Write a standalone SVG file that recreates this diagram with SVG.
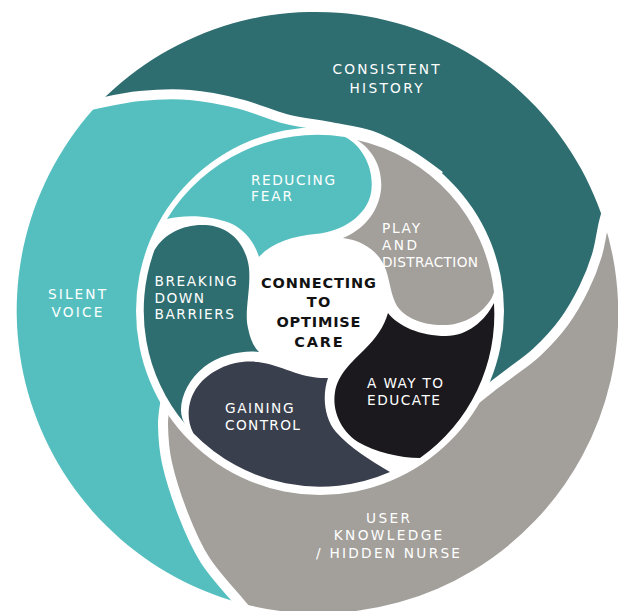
<svg xmlns="http://www.w3.org/2000/svg" width="618" height="611" viewBox="0 0 618 611">
  <style>
    .lbl { font-family: "DejaVu Sans", "Liberation Sans", sans-serif; font-size: 13.7px; fill: #ffffff; }
    .ctr { font-family: "DejaVu Sans", "Liberation Sans", sans-serif; font-size: 14.5px; font-weight: bold; fill: #121212; }
    .sep { fill: none; stroke: #ffffff; stroke-width: 10; }
    .c-dark { fill: #2e6d70; }
    .c-light { fill: #55bfc0; }
    .c-grey { fill: #a39f9b; }
    .c-slate { fill: #3a3f4d; }
    .c-black { fill: #1b191e; }
  </style>

  <rect width="618" height="611" fill="#ffffff"/>

  <!-- outer swirl -->
  <g id="consistent-history">
    <path class="c-dark" d="M100,102 A303,303 0 0 1 604,222 C601.5,232 600.3,244 597,255 C593.7,266 589.5,276.8 584,288 C578.5,299.2 571.8,311.3 564,322 C556.2,332.7 546,343.5 537,352 C528,360.5 517.8,367 510,373 C502.2,379 496.7,382.8 490,388 C483.3,393.2 473.3,401.3 470,404 L330,127 C315.7,124.2 301,122.8 286,119 C271,115.2 256,108 240,104 C224,100 206.7,96.3 190,95 C173.3,93.7 155.8,94.5 140,96 C124.2,97.5 110,100 100,102 Z"/>
    <text class="lbl" x="386" y="74" text-anchor="middle" textLength="107" lengthAdjust="spacing">CONSISTENT</text>
    <text class="lbl" x="386" y="92.5" text-anchor="middle" textLength="73" lengthAdjust="spacing">HISTORY</text>
  </g>

  <g id="silent-voice">
    <path class="c-light" d="M100,102 A303,303 0 0 0 240,603 C230.5,591.7 214.5,574.8 205,560 C195.5,545.2 189.3,530.2 183,514 C176.7,497.8 170.3,477.8 167,463 C163.7,448.2 163.2,435.8 163,425 C162.8,414.2 165.5,402.5 166,398 L330,127 C315.7,124.2 301,122.8 286,119 C271,115.2 256,108 240,104 C224,100 206.7,96.3 190,95 C173.3,93.7 155.8,94.5 140,96 C124.2,97.5 110,100 100,102 Z"/>
    <text class="lbl" x="77" y="298.5" text-anchor="middle" textLength="58" lengthAdjust="spacing">SILENT</text>
    <text class="lbl" x="77" y="317" text-anchor="middle" textLength="51" lengthAdjust="spacing">VOICE</text>
  </g>

  <g id="user-knowledge">
    <path class="c-grey" d="M604,222 A300,300 0 0 1 240,603 C230.5,591.7 214.5,574.8 205,560 C195.5,545.2 189.3,530.2 183,514 C176.7,497.8 170.3,477.8 167,463 C163.7,448.2 163.2,435.8 163,425 C162.8,414.2 165.5,402.5 166,398 L470,404 C473.3,401.3 483.3,393.2 490,388 C496.7,382.8 502.2,379 510,373 C517.8,367 528,360.5 537,352 C546,343.5 556.2,332.7 564,322 C571.8,311.3 578.5,299.2 584,288 C589.5,276.8 593.7,266 597,255 C600.3,244 601.5,232 604,222 Z"/>
    <text class="lbl" x="388" y="523" text-anchor="middle" textLength="44" lengthAdjust="spacing">USER</text>
    <text class="lbl" x="388" y="540.2" text-anchor="middle" textLength="108.5" lengthAdjust="spacing">KNOWLEDGE</text>
    <text class="lbl" x="388" y="558.3" text-anchor="middle" textLength="144" lengthAdjust="spacing">/ HIDDEN NURSE</text>
  </g>

  <!-- white gaps between the outer bands -->
  <g id="separators">
    <path class="sep" d="M60,112 C65.8,110.7 81.7,106.7 95,104 C108.3,101.3 124.2,97.5 140,96 C155.8,94.5 173.3,93.7 190,95 C206.7,96.3 224,100 240,104 C256,108 271,115.2 286,119 C301,122.8 315.7,124.2 330,127 C344.3,129.8 358.7,131.3 372,136 C385.3,140.7 398.7,148.3 410,155 C421.3,161.7 435,172.5 440,176"/>
    <path class="sep" d="M612,195 C610.7,199.5 606.5,212 604,222 C601.5,232 600.3,244 597,255 C593.7,266 589.5,276.8 584,288 C578.5,299.2 571.8,311.3 564,322 C556.2,332.7 546,343.5 537,352 C528,360.5 517.8,367 510,373 C502.2,379 496.7,382.8 490,388 C483.3,393.2 473.3,401.3 470,404"/>
    <path class="sep" d="M262,628 C258.3,623.8 249.5,614.3 240,603 C230.5,591.7 214.5,574.8 205,560 C195.5,545.2 189.3,530.2 183,514 C176.7,497.8 170.3,477.8 167,463 C163.7,448.2 163.2,435.8 163,425 C162.8,414.2 165.5,402.5 166,398"/>
  </g>

  <!-- ring of white around the inner petals -->
  <circle cx="320" cy="311" r="184" fill="#ffffff"/>

  <!-- inner petals -->
  <g id="reducing-fear">
    <path class="c-light" d="M167,219 A176,176 0 0 1 345,137 C363,146 375,170 371,193 C367,215 343,232 315,234 C293,236 271,243 259,257 C255,244 246,230 230,223 C212,216 187,214 167,219 Z"/>
    <text class="lbl" x="251" y="184.5" textLength="84" lengthAdjust="spacing">REDUCING</text>
    <text class="lbl" x="251" y="201.3" textLength="41" lengthAdjust="spacing">FEAR</text>
  </g>

  <g id="play-and-distraction">
    <path class="c-grey" d="M357,140 A176,176 0 0 1 494,292 C490,307 470,324 446,325 C424,326 405,318 397,306 C391,296 390,282 386,270 C380,253 365,241 343,238 C362,230 378,214 381,190 C383,168 373,150 357,140 Z"/>
    <text class="lbl" x="382" y="233.3" textLength="38" lengthAdjust="spacing">PLAY</text>
    <text class="lbl" x="382" y="250" textLength="35" lengthAdjust="spacing">AND</text>
    <text class="lbl" x="382" y="266.7" textLength="96" lengthAdjust="spacing">DISTRACTION</text>
  </g>

  <g id="a-way-to-educate">
    <path class="c-black" d="M494,303 A176,176 0 0 1 420,458 C400,458 375,452 358,442 C340,430 332,410 335,392 C338,374 352,362 364,350 C376,338 384,327 388,313 C398,326 420,336 446,336 C467,336 485,321 494,303 Z"/>
    <text class="lbl" x="367" y="388" textLength="76" lengthAdjust="spacing">A WAY TO</text>
    <text class="lbl" x="367" y="404.5" textLength="73" lengthAdjust="spacing">EDUCATE</text>
  </g>

  <g id="gaining-control">
    <path class="c-slate" d="M390,472 A176,176 0 0 1 193.4,433.3 C186,420 187,400 198,386 C210,370 234,359 258,362 C282,365 300,379 328,378 C322,395 324,418 336,432 C350,448 370,460 390,472 Z"/>
    <text class="lbl" x="225" y="413" textLength="68.5" lengthAdjust="spacing">GAINING</text>
    <text class="lbl" x="225" y="429.5" textLength="75" lengthAdjust="spacing">CONTROL</text>
  </g>

  <g id="breaking-down-barriers">
    <path class="c-dark" d="M185.2,424.1 A176,176 0 0 1 154.5,250 C165,233 184,224 205,225 C230,226 246,244 249,268 C251,290 244,312 248,328 C250,338 253,346 259,352 C245,350 220,354 204,367 C190,378 181,395 181,410 C181,416 183,421 185.2,424.1 Z"/>
    <text class="lbl" x="154.5" y="286.3" textLength="82" lengthAdjust="spacing">BREAKING</text>
    <text class="lbl" x="154.5" y="302.7" textLength="49.5" lengthAdjust="spacing">DOWN</text>
    <text class="lbl" x="154.5" y="318.8" textLength="79.5" lengthAdjust="spacing">BARRIERS</text>
  </g>

  <!-- centre -->
  <g id="connecting-to-optimise-care">
    <text class="ctr" x="318.5" y="288.3" text-anchor="middle" textLength="115" lengthAdjust="spacing">CONNECTING</text>
    <text class="ctr" x="318.5" y="307.3" text-anchor="middle" textLength="23.5" lengthAdjust="spacing">TO</text>
    <text class="ctr" x="318.5" y="327.3" text-anchor="middle" textLength="84" lengthAdjust="spacing">OPTIMISE</text>
    <text class="ctr" x="318.5" y="346.7" text-anchor="middle" textLength="48.5" lengthAdjust="spacing">CARE</text>
  </g>
</svg>
